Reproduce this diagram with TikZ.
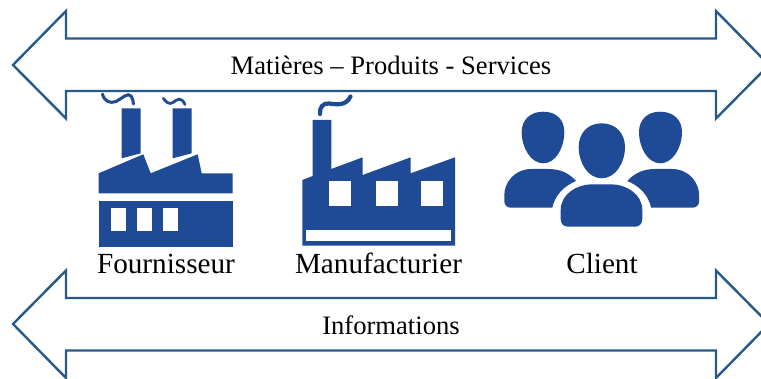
\documentclass[tikz,border=0pt]{standalone}
\usepackage{fontspec}
\setmainfont{Liberation Serif}
\definecolor{arrowblue}{HTML}{265A88}
\definecolor{iconblue}{HTML}{1E4A96}
\tikzset{
  bigarrow/.style={draw=arrowblue,line width=2.4pt,fill=white,line join=miter,miter limit=10},
  icon/.style={fill=iconblue,draw=none},
  hole/.style={fill=white,draw=none},
  smoke/.style={draw=iconblue,line cap=round,fill=none},
  biglabel/.style={font=\fontsize{29.2}{32}\selectfont,anchor=base,inner sep=0pt,text=black},
  smalllabel/.style={font=\fontsize{26.6}{30}\selectfont,anchor=base,inner sep=0pt,text=black}
}
\begin{document}
\begin{tikzpicture}[x=1pt,y=-1pt]
\useasboundingbox (0,0) rectangle (761,379);
\clip (0,0) rectangle (761,379);
% double arrows
\draw[bigarrow] (13,65) -- (66,11) -- (66,38.5) -- (716,38.5) -- (716,11) -- (769,65) -- (716,118.5) -- (716,91) -- (66,91) -- (66,118.5) -- cycle;
\draw[bigarrow] (13,324) -- (66,270.5) -- (66,298) -- (716,298) -- (716,270.5) -- (769,324) -- (716,378) -- (716,350.5) -- (66,350.5) -- (66,378) -- cycle;
% supplier factory
\fill[icon] (121.7,108.3) -- (140.7,108.3) -- (140.7,153.3) -- (121.7,158.3) -- cycle;
\fill[icon] (172.7,108.3) -- (191.7,108.3) -- (191.7,153.3) -- (172.7,158.3) -- cycle;
\fill[icon] (98.7,173.3) -- (143.3,154.3) -- (150.7,173.3) -- (197.7,154.3) -- (201.7,173.3) -- (232.7,173.3) -- (232.7,193.3) -- (98.7,193.3) -- cycle;
\fill[icon] (98.7,200.7) rectangle (232.7,246.7);
\fill[hole] (110.7,207.7) rectangle (125.7,231);
\fill[hole] (137.3,207.7) rectangle (152.3,231);
\fill[hole] (162.7,207.7) rectangle (177.7,231);
\draw[smoke,line width=3pt] (102.5,94) .. controls (104,101) and (110,104) .. (116,101.5) .. controls (122,98.5) and (128,92) .. (131,96) .. controls (133,98.5) and (133,101) .. (133.5,104);
\draw[smoke,line width=2.8pt] (163.3,98.3) .. controls (166,102) and (169,105) .. (173,102.5) .. controls (177,99.5) and (181,96) .. (185,104.5);
% manufacturer factory
\fill[icon] (302.3,180) -- (312.7,176) -- (312.7,120) -- (331.3,120) -- (331.3,169) -- (362.7,157.3) -- (362.7,175) -- (410.7,157.3) -- (410.7,173.3) -- (455,157.3) -- (455,245.7) -- (302.3,245.7) -- cycle;
\fill[hole] (329,180.7) rectangle (351,205.7);
\fill[hole] (376,180.7) rectangle (397.7,205.7);
\fill[hole] (421,180.7) rectangle (442.7,205.7);
\fill[hole] (306.3,230.3) rectangle (450.7,241);
\draw[smoke,line width=4.2pt] (320,114) .. controls (319.5,107) and (323,103) .. (329,103.5) .. controls (337,104.5) and (346,106) .. (350.5,96.5);
% people
\fill[icon] (543.3,111.7) .. controls (530,111.7) and (521.7,120) .. (521.7,132) .. controls (521.7,148) and (531,163.3) .. (543.3,163.3) .. controls (555.6,163.3) and (564.3,148) .. (564.3,132) .. controls (564.3,120) and (556.6,111.7) .. (543.3,111.7) -- cycle;
\fill[icon] (660.3,111.7) .. controls (647,111.7) and (639,120) .. (639,132) .. controls (639,148) and (648,163.3) .. (660.3,163.3) .. controls (672.6,163.3) and (682,148) .. (682,132) .. controls (682,120) and (673.6,111.7) .. (660.3,111.7) -- cycle;
\fill[icon] (601.7,123.3) .. controls (587,123.3) and (578.7,134) .. (578.7,147) .. controls (578.7,163) and (588,178.3) .. (601.7,178.3) .. controls (615.4,178.3) and (625,163) .. (625,147) .. controls (625,134) and (616.4,123.3) .. (601.7,123.3) -- cycle;
\fill[icon] (552.3,207.7) .. controls (555,195) and (564,186) .. (576,181) .. controls (569,173) and (560,169) .. (548,169) -- (531.7,169) .. controls (514,169) and (504.3,183) .. (504.3,195) -- (504.3,201) .. controls (504.3,205) and (507,207.7) .. (511,207.7) -- cycle;
\fill[icon] (651.1,207.7) .. controls (648.4,195) and (639.4,186) .. (627.4,181) .. controls (634.4,173) and (643.4,169) .. (655.4,169) -- (671.7,169) .. controls (689.4,169) and (699.1,183) .. (699.1,195) -- (699.1,201) .. controls (699.1,205) and (696.4,207.7) .. (692.4,207.7) -- cycle;
\fill[icon] (568,226.7) .. controls (563,226.7) and (560.7,223) .. (560.7,219) -- (560.7,210) .. controls (560.7,194) and (577,184.3) .. (592,184.3) -- (611,184.3) .. controls (626,184.3) and (642.3,194) .. (642.3,210) -- (642.3,219) .. controls (642.3,223) and (640,226.7) .. (635,226.7) -- cycle;
% labels
\node[smalllabel] (flux) at (391,74.5) {Matières – Produits - Services};
\node[biglabel] (fournisseur) at (166,273.5) {Fournisseur};
\node[biglabel] (manufacturier) at (378.5,273.5) {Manufacturier};
\node[biglabel] (client) at (602,273.5) {Client};
\node[smalllabel] (informations) at (391,334.5) {Informations};
\end{tikzpicture}
\end{document}
